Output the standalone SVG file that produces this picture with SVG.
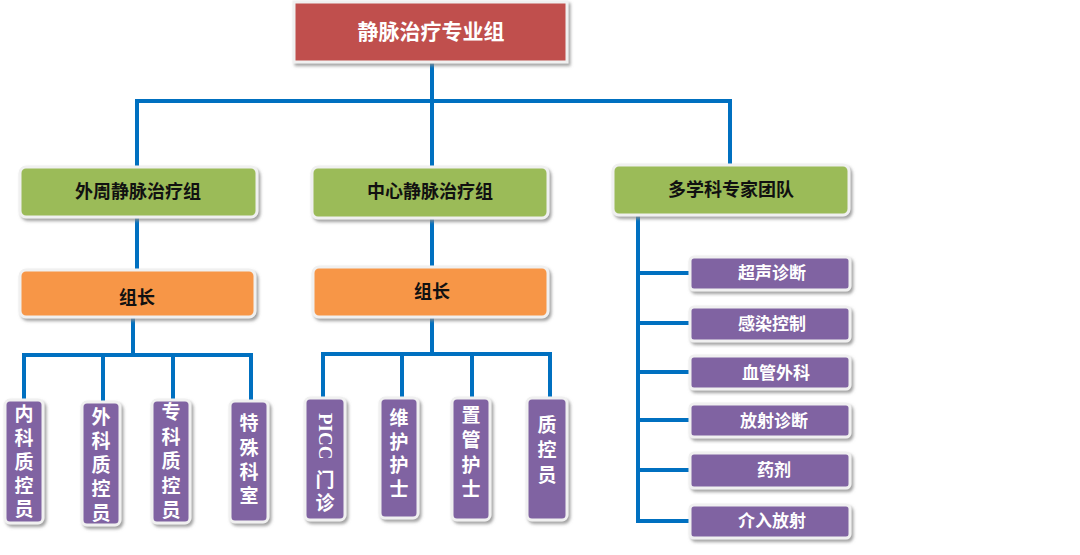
<svg xmlns="http://www.w3.org/2000/svg" width="1080" height="555" viewBox="0 0 1080 555">
<defs>
<filter id="sh" x="-20%" y="-20%" width="140%" height="140%">
<feDropShadow dx="2" dy="2.5" stdDeviation="1.5" flood-color="#8a8a8a" flood-opacity="0.8"/>
</filter>
<style>
.box{stroke:#f0f0f0;stroke-width:3;filter:url(#sh)}
.red{fill:#c0504d}
.green{fill:#9bbb59}
.orange{fill:#f79646}
.purple{fill:#8064a2}
.ln{stroke:#0070c0;stroke-width:4;fill:none;stroke-linecap:square}
text{font-family:"Liberation Serif","Noto Sans CJK SC",serif;font-weight:bold;text-anchor:middle;dominant-baseline:central}
.wt{fill:#ffffff}
.bk{fill:#111111}
.t21{font-size:21px}
.t18{font-size:18px}
.t17{font-size:17px}
.v{font-size:19px;fill:#ffffff}
</style>
</defs>
<rect width="1080" height="555" fill="#ffffff"/>
<g id="connectors">
<path class="ln" d="M432 62 V101 M137 101 H730 M137 101 V165 M432 101 V165 M730 101 V163"/>
<path class="ln" d="M137 217 V268 M432 218 V265"/>
<path class="ln" d="M133 317 V355 M24 355 H251 M24 355 V398 M103 355 V400 M173 355 V398 M251 355 V400"/>
<path class="ln" d="M432 317 V354 M323 354 H550 M323 354 V396 M402 354 V396 M472 354 V396 M550 354 V396"/>
<path class="ln" d="M638 215 V521 M638 273 H688 M638 323 H688 M638 372 H688 M638 420 H688 M638 470 H688 M638 521 H688"/>
</g>
<g id="root">
<rect class="box red" x="294" y="2" width="273" height="60"/>
<text class="wt t21" x="431" y="32">静脉治疗专业组</text>
</g>
<g id="g1">
<rect class="box green" x="20" y="167" width="237" height="50" rx="6"/>
<text class="bk t18" x="138" y="192">外周静脉治疗组</text>
</g>
<g id="g2">
<rect class="box green" x="312" y="167" width="236" height="51" rx="6"/>
<text class="bk t18" x="430" y="192">中心静脉治疗组</text>
</g>
<g id="g3">
<rect class="box green" x="613" y="165" width="236" height="50" rx="6"/>
<text class="bk t18" x="731" y="190">多学科专家团队</text>
</g>
<g id="o1">
<rect class="box orange" x="20" y="270" width="235" height="47" rx="6"/>
<text class="bk t18" x="137" y="298">组长</text>
</g>
<g id="o2">
<rect class="box orange" x="313" y="267" width="235" height="50" rx="6"/>
<text class="bk t18" x="432" y="292">组长</text>
</g>
<g id="p1">
<rect class="box purple" x="5" y="400" width="38" height="123" rx="5"/>
<text class="v" x="24"><tspan x="24" y="414">内</tspan><tspan x="24" y="438">科</tspan><tspan x="24" y="462">质</tspan><tspan x="24" y="486">控</tspan><tspan x="24" y="509">员</tspan></text>
</g>
<g id="p2">
<rect class="box purple" x="82" y="402" width="38" height="123" rx="5"/>
<text class="v" x="101"><tspan x="101" y="417">外</tspan><tspan x="101" y="441">科</tspan><tspan x="101" y="465">质</tspan><tspan x="101" y="489">控</tspan><tspan x="101" y="513">员</tspan></text>
</g>
<g id="p3">
<rect class="box purple" x="152" y="400" width="38" height="123" rx="5"/>
<text class="v" x="171"><tspan x="171" y="412">专</tspan><tspan x="171" y="437">科</tspan><tspan x="171" y="461">质</tspan><tspan x="171" y="486">控</tspan><tspan x="171" y="510">员</tspan></text>
</g>
<g id="p4">
<rect class="box purple" x="230" y="401" width="38" height="121" rx="5"/>
<text class="v" x="249"><tspan x="249" y="423">特</tspan><tspan x="249" y="448">殊</tspan><tspan x="249" y="472">科</tspan><tspan x="249" y="496">室</tspan></text>
</g>
<g id="p5">
<rect class="box purple" x="305" y="398" width="40" height="122" rx="5"/>
<text class="v" transform="translate(325 413) rotate(90)" style="text-anchor:start">PICC</text>
<text class="v" x="325"><tspan x="325" y="480">门</tspan><tspan x="325" y="503">诊</tspan></text>
</g>
<g id="p6">
<rect class="box purple" x="380" y="398" width="38" height="120" rx="5"/>
<text class="v" x="399"><tspan x="399" y="418">维</tspan><tspan x="399" y="442">护</tspan><tspan x="399" y="465">护</tspan><tspan x="399" y="489">士</tspan></text>
</g>
<g id="p7">
<rect class="box purple" x="452" y="398" width="38" height="122" rx="5"/>
<text class="v" x="471"><tspan x="471" y="415">置</tspan><tspan x="471" y="440">管</tspan><tspan x="471" y="465">护</tspan><tspan x="471" y="489">士</tspan></text>
</g>
<g id="p8">
<rect class="box purple" x="527" y="398" width="40" height="122" rx="5"/>
<text class="v" x="547"><tspan x="547" y="425">质</tspan><tspan x="547" y="450">控</tspan><tspan x="547" y="475">员</tspan></text>
</g>
<g id="r1">
<rect class="box purple" x="690" y="257" width="160" height="33" rx="4"/>
<text class="wt t17" x="772" y="273">超声诊断</text>
</g>
<g id="r2">
<rect class="box purple" x="690" y="307" width="160" height="34" rx="4"/>
<text class="wt t17" x="772" y="324">感染控制</text>
</g>
<g id="r3">
<rect class="box purple" x="690" y="356" width="160" height="33" rx="4"/>
<text class="wt t17" x="776" y="373">血管外科</text>
</g>
<g id="r4">
<rect class="box purple" x="690" y="404" width="160" height="33" rx="4"/>
<text class="wt t17" x="774" y="421">放射诊断</text>
</g>
<g id="r5">
<rect class="box purple" x="690" y="453" width="160" height="35" rx="4"/>
<text class="wt t17" x="774" y="470">药剂</text>
</g>
<g id="r6">
<rect class="box purple" x="690" y="505" width="160" height="33" rx="4"/>
<text class="wt t17" x="772" y="521">介入放射</text>
</g>
</svg>
